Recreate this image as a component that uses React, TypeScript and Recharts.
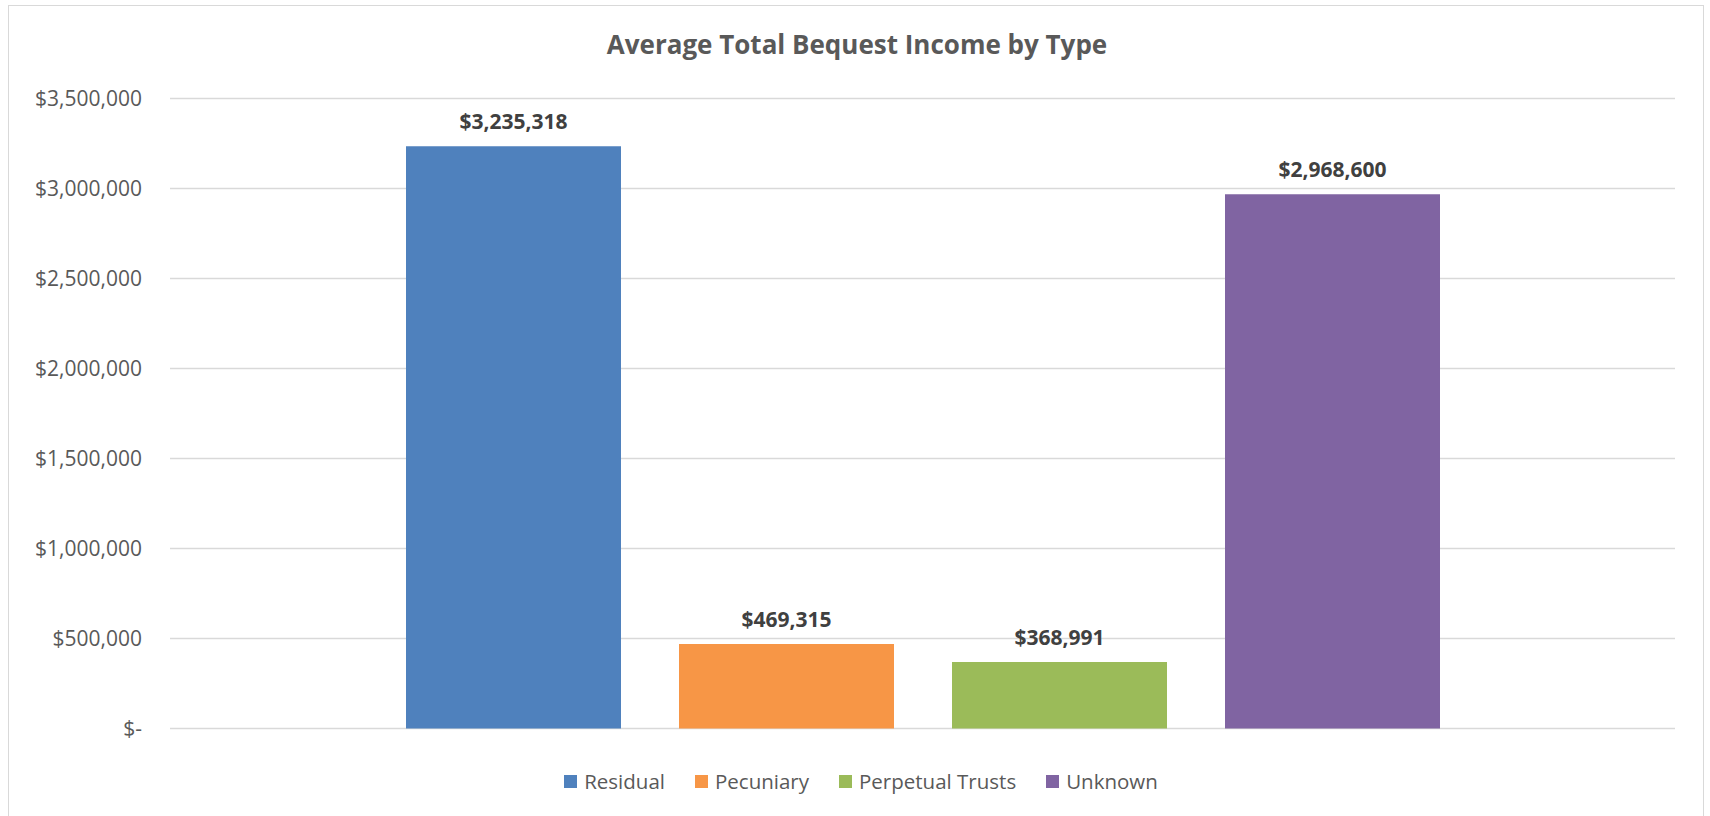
import React from 'react';
import { BarChart, Bar, XAxis, YAxis, CartesianGrid, Legend, LabelList } from 'recharts';

const title = 'Average Total Bequest Income by Type';
const categories = ['Residual', 'Pecuniary', 'Perpetual Trusts', 'Unknown'];
const seriesKeys = ['residual', 'pecuniary', 'perpetual', 'unknown'];
const seriesValues = [3235318, 469315, 368991, 2968600];
const yTicks = [0, 500000, 1000000, 1500000, 2000000, 2500000, 3000000, 3500000];

const colors = ['#4F81BD', '#F79646', '#9BBB59', '#8064A2'];
const FONT = '"Open Sans", Lato, sans-serif';

const row: Record<string, string | number> = { name: 'Total' };
seriesKeys.forEach((k, i) => {
  row[k] = seriesValues[i];
});
const data = [row];

const money = (v: number) => (v === 0 ? '$-' : '$' + Number(v).toLocaleString('en-US'));

const LegendContent = (props: any) => {
  const payload = [...(props.payload || [])].sort(
    (a: any, b: any) => categories.indexOf(a.value) - categories.indexOf(b.value)
  );
  return (
    <div
      style={{
        display: 'flex',
        justifyContent: 'center',
        alignItems: 'center',
        height: 26,
        paddingLeft: 12,
        fontFamily: FONT,
        fontSize: 20.5,
        lineHeight: '26px',
        color: '#595959',
      }}
    >
      {payload.map((p: any, i: number) => (
        <div key={i} style={{ display: 'flex', alignItems: 'center', marginLeft: i === 0 ? 0 : 30 }}>
          <div style={{ width: 13, height: 13, background: p.color, marginRight: 7 }} />
          <span>{p.value}</span>
        </div>
      ))}
    </div>
  );
};

export default function App() {
  return (
    <div
      style={{
        position: 'absolute',
        left: 0,
        top: 0,
        width: 1710,
        height: 816,
        overflow: 'hidden',
        background: '#ffffff',
      }}
    >
      <div
        style={{
          position: 'absolute',
          left: 8,
          top: 5,
          width: 1696,
          height: 840,
          border: '1.5px solid #d9d9d9',
          boxSizing: 'border-box',
        }}
      />
      <div style={{ position: 'absolute', left: 0, top: 0 }}>
        <BarChart
          width={1710}
          height={816}
          data={data}
          margin={{ top: 98.5, right: 35, bottom: 87.5, left: 0 }}
          barSize={215}
          barGap={58}
        >
          <CartesianGrid vertical={false} stroke="#d9d9d9" strokeWidth={1.5} />
          <XAxis dataKey="name" hide />
          <YAxis
            width={170}
            domain={[0, 3500000]}
            ticks={yTicks}
            tickFormatter={money}
            axisLine={false}
            tickLine={false}
            tickSize={0}
            tickMargin={28}
            interval={0}
            tick={{ fill: '#595959', fontSize: 21, fontFamily: FONT }}
          />
          <Legend
            verticalAlign="middle"
            align="center"
            layout="horizontal"
            itemSorter={null as any}
            content={<LegendContent />}
            wrapperStyle={{ top: 768, left: 0, width: 1710 }}
          />
          {seriesKeys.map((k, i) => (
            <Bar key={k} dataKey={k} name={categories[i]} fill={colors[i]} isAnimationActive={false}>
              <LabelList
                dataKey={k}
                position="top"
                offset={17}
                formatter={(v: any) => money(Number(v))}
                style={{ fill: '#404040', fontSize: 21, fontWeight: 700, fontFamily: FONT }}
              />
            </Bar>
          ))}
        </BarChart>
      </div>
      <svg
        width={1710}
        height={100}
        style={{ position: 'absolute', left: 0, top: 0, pointerEvents: 'none' }}
      >
        <text
          x={857}
          y={54.3}
          textAnchor="middle"
          fill="#595959"
          fontSize={26}
          fontWeight={700}
          fontFamily={FONT}
        >
          {title}
        </text>
      </svg>
    </div>
  );
}
